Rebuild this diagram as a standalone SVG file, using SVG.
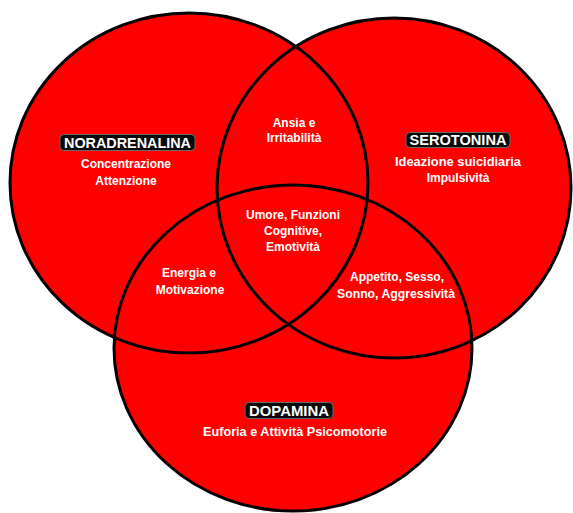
<svg xmlns="http://www.w3.org/2000/svg" xmlns:xlink="http://www.w3.org/1999/xlink" width="573" height="513" viewBox="0 0 573 513">
  <style>
    .fill { fill: #fe0000; stroke: none; }
    .outline { fill: none; stroke: #000; stroke-width: 3; }
    .t { font-family: "Liberation Sans", Arial, sans-serif; font-weight: bold; fill: #fff; text-anchor: middle; font-size: 12px; }
    .title { font-family: "Liberation Sans", Arial, sans-serif; font-weight: bold; fill: #fff; text-anchor: middle; font-size: 14px; }
    .tbox { fill: #0a0a0a; stroke: #6a6a6a; stroke-width: 1; }
  </style>
  <defs>
    <ellipse id="eN" cx="189" cy="183" rx="179" ry="170"/>
    <ellipse id="eS" cx="394" cy="188" rx="177" ry="170"/>
    <ellipse id="eD" cx="293" cy="348" rx="179" ry="163"/>
  </defs>
  <rect width="573" height="513" fill="#fff"/>

  <g id="noradrenalina">
    <use xlink:href="#eN" class="fill"/>
  </g>
  <g id="serotonina">
    <use xlink:href="#eS" class="fill"/>
  </g>
  <g id="dopamina">
    <use xlink:href="#eD" class="fill"/>
  </g>
  <g id="outlines">
    <use xlink:href="#eN" class="outline"/>
    <use xlink:href="#eS" class="outline"/>
    <use xlink:href="#eD" class="outline"/>
  </g>

  <g id="label-noradrenalina">
    <rect class="tbox" x="60" y="134.5" width="135" height="16" rx="4"/>
    <text class="title" x="127.5" y="147.5" textLength="127" lengthAdjust="spacingAndGlyphs">NORADRENALINA</text>
    <text class="t" x="126" y="168">Concentrazione</text>
    <text class="t" x="126" y="185">Attenzione</text>
  </g>
  <g id="label-serotonina">
    <rect class="tbox" x="406" y="132.5" width="104" height="15" rx="4"/>
    <text class="title" x="458" y="145" textLength="97" lengthAdjust="spacingAndGlyphs">SEROTONINA</text>
    <text class="t" x="458" y="166" textLength="126" lengthAdjust="spacingAndGlyphs">Ideazione suicidiaria</text>
    <text class="t" x="458" y="182">Impulsività</text>
  </g>
  <g id="label-dopamina">
    <rect class="tbox" x="245" y="402.5" width="88" height="16" rx="4"/>
    <text class="title" x="289" y="415.5" textLength="80" lengthAdjust="spacingAndGlyphs">DOPAMINA</text>
    <text class="t" x="295" y="436" textLength="184" lengthAdjust="spacingAndGlyphs">Euforia e Attività Psicomotorie</text>
  </g>
  <g id="label-ansia">
    <text class="t" x="294" y="127">Ansia e</text>
    <text class="t" x="294" y="142">Irritabilità</text>
  </g>
  <g id="label-umore">
    <text class="t" x="293" y="219">Umore, Funzioni</text>
    <text class="t" x="293" y="235">Cognitive,</text>
    <text class="t" x="293" y="251">Emotività</text>
  </g>
  <g id="label-energia">
    <text class="t" x="189" y="277">Energia e</text>
    <text class="t" x="190" y="294">Motivazione</text>
  </g>
  <g id="label-appetito">
    <text class="t" x="397" y="281">Appetito, Sesso,</text>
    <text class="t" x="396" y="298" textLength="118" lengthAdjust="spacingAndGlyphs">Sonno, Aggressività</text>
  </g>
</svg>
